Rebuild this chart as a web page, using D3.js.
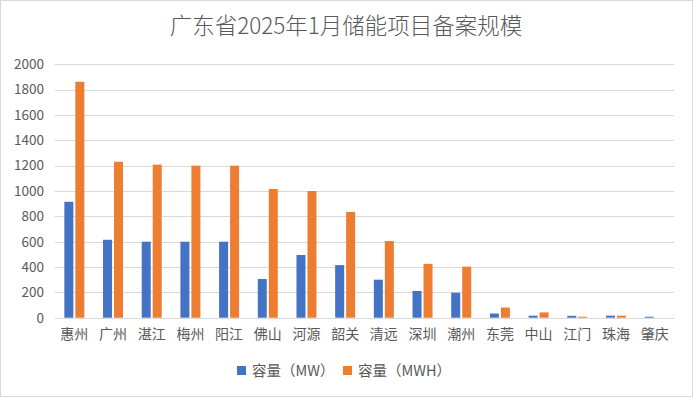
<!doctype html>
<html>
<head>
    <meta charset="utf-8">
    <script src="https://d3js.org/d3.v7.min.js"></script>
    <style>
        body { margin: 0; background: #fff; }
        text { font-family: "Noto Sans CJK SC", "Microsoft YaHei", sans-serif; fill: #595959; }
    </style>
</head>
<body>
    <svg width="693" height="397"></svg>
    <script>
        var cities = ["惠州", "广州", "湛江", "梅州", "阳江", "佛山", "河源", "韶关", "清远", "深圳", "潮州", "东莞", "中山", "江门", "珠海", "肇庆"];
        var mwValues = [915, 615, 600, 600, 600, 305, 495, 415, 300, 211, 197, 33, 16, 15, 16, 8];
        var mwhValues = [1862, 1231, 1208, 1200, 1200, 1016, 1000, 835, 605, 425, 403, 80, 42, 8, 16, 0];
        var yTicks = [0, 200, 400, 600, 800, 1000, 1200, 1400, 1600, 1800, 2000];
        var seriesNames = ["容量（MW）", "容量（MWH）"];
        var colors = ["#4472C4", "#ED7D31"];

        var svg = d3.select("svg");
        var plotLeft = 55, plotRight = 674, plotTop = 64.3, plotBottom = 317.7;

        // outer border
        svg.append("rect")
            .attr("x", 0.5).attr("y", 0.5)
            .attr("width", 692).attr("height", 396)
            .attr("fill", "#fff").attr("stroke", "#d9d9d9");

        svg.append("text")
            .attr("x", 346).attr("y", 34)
            .attr("text-anchor", "middle")
            .attr("font-size", "22.5px")
            .attr("font-weight", 300)
            .text("广东省2025年1月储能项目备案规模");

        var x = d3.scaleBand().domain(cities).range([plotLeft, plotRight]);
        var y = d3.scaleLinear().domain([0, 2000]).range([plotBottom, plotTop]);
        var barW = 9, gap = 2;

        // gridlines
        svg.append("g").selectAll("line")
            .data(yTicks)
            .enter().append("line")
            .attr("x1", plotLeft).attr("x2", plotRight)
            .attr("y1", function(d) { return Math.round(y(d)) + 0.5; })
            .attr("y2", function(d) { return Math.round(y(d)) + 0.5; })
            .attr("stroke", "#d9d9d9").attr("stroke-width", 1);

        var yAxis = svg.append("g")
            .attr("transform", "translate(" + (plotLeft - 11) + ",0)")
            .call(d3.axisLeft(y).tickValues(yTicks).tickFormat(d3.format("d")).tickSize(0).tickPadding(0));
        yAxis.select(".domain").remove();
        yAxis.selectAll("text")
            .attr("font-size", "13.5px")
            .attr("font-family", "'Noto Sans', sans-serif")
            .attr("fill", "#595959");

        var xAxis = svg.append("g")
            .attr("transform", "translate(0," + plotBottom + ")")
            .call(d3.axisBottom(x).tickSize(0).tickPadding(11));
        xAxis.select(".domain").remove();
        xAxis.selectAll("text")
            .attr("font-size", "14px")
            .attr("font-family", "'Noto Sans CJK SC', sans-serif")
            .attr("fill", "#595959");

        [mwValues, mwhValues].forEach(function(vals, s) {
            svg.append("g").selectAll("rect")
                .data(vals)
                .enter().append("rect")
                .attr("x", function(d, i) {
                    var c = x(cities[i]) + x.bandwidth() / 2;
                    return s === 0 ? c - gap / 2 - barW : c + gap / 2;
                })
                .attr("y", function(d) { return y(d); })
                .attr("width", barW)
                .attr("height", function(d) { return plotBottom - y(d); })
                .attr("fill", colors[s]);
        });

        // legend
        var legendX = [237, 343];
        seriesNames.forEach(function(name, s) {
            svg.append("rect")
                .attr("x", legendX[s]).attr("y", 366)
                .attr("width", 9).attr("height", 9)
                .attr("fill", colors[s]);
            svg.append("text")
                .attr("x", legendX[s] + 15).attr("y", 375.5)
                .attr("font-size", "14.5px")
                .text(name);
        });
    </script>
</body>
</html>
